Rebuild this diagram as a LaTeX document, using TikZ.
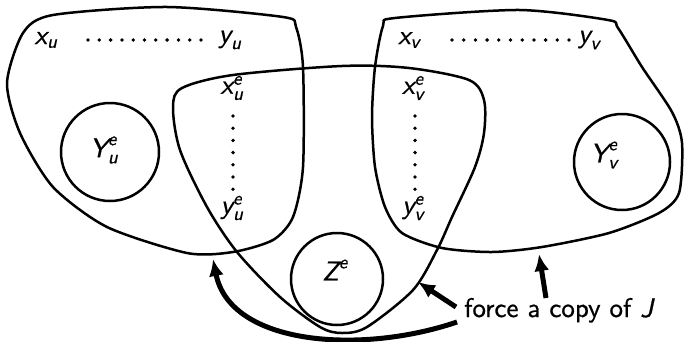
\documentclass[tikz,border=0pt]{standalone}
\usepackage{amsmath}
\usepackage{fontspec}
\setsansfont{lmsans10-regular.otf}[SlantedFont=lmsans10-oblique.otf, ItalicFont=lmsans10-oblique.otf, FakeBold=0.7]
\usetikzlibrary{arrows.meta}
\DeclareMathSizes{27}{27}{19}{14}
\newcommand{\mv}[1]{\textsl{#1}}
\tikzset{
  blob/.style={line width=2.5pt, line join=round},
  lbl/.style={font=\sffamily\fontsize{27}{32}\selectfont, inner sep=0pt},
  dotm/.style={fill=black, draw=none},
  bigarrow/.style={line width=5pt, -{Latex[length=17pt,width=15pt]}},
}
\begin{document}
\begin{tikzpicture}[x=1pt,y=-1pt]
\useasboundingbox (0,0) rectangle (684,342);
% left set
\draw[blob] plot[smooth cycle, tension=0.45] coordinates {
 (23,33) (53,15) (167,7) (283,17) (296,27) (303,67) (303,167) (293,217) (273,240)
 (233,252) (187,253) (107,227) (53,187) (20,133) (7,83)};
% right set
\draw[blob] plot[smooth cycle, tension=0.45] coordinates {
 (395,18) (519,10) (608,20) (618,28) (642,67) (672,112) (682,143) (679,193) (659,213)
 (609,233) (542,247) (492,252) (442,248) (402,233) (385,207) (375,167)
 (372,117) (375,67) (383,26)};
% middle U-shaped set
\draw[blob] plot[smooth cycle, tension=0.5] coordinates {
 (182,88) (233,75) (342,66) (409,68) (469,80) (484,100) (484,133) (475,167)
 (452,217) (437,250) (413,290) (367,327) (342,333) (320,327) (280,297)
 (237,252) (207,207) (180,150) (173,107)};
% circles
\node[draw, blob, circle, minimum size=98pt] (Yu) at (110,152) {};
\node[draw, blob, circle, minimum size=96pt] (Yv) at (622,162) {};
\node[draw, blob, circle, minimum size=92pt] (Z) at (337,279) {};
\node[lbl] (Yul) at (104,150) {$\mv{Y}_{\mv{u}}^{\mv{e}}$};
\node[lbl] (Yvl) at (604,155) {$\mv{Y}_{\mv{v}}^{\mv{e}}$};
\node[lbl] (Zl) at (335,270) {$\mv{Z}^{\mv{e}}$};
% labels
\node[lbl] (xu) at (46,40) {$\mv{x}_{\mv{u}}$};
\node[lbl] (yu) at (230,40) {$\mv{y}_{\mv{u}}$};
\node[lbl] (xv) at (409,40) {$\mv{x}_{\mv{v}}$};
\node[lbl] (yv) at (589,40) {$\mv{y}_{\mv{v}}$};
\node[lbl] (xue) at (232,88) {$\mv{x}_{\mv{u}}^{\mv{e}}$};
\node[lbl] (yue) at (232,208) {$\mv{y}_{\mv{u}}^{\mv{e}}$};
\node[lbl] (xve) at (413,88) {$\mv{x}_{\mv{v}}^{\mv{e}}$};
\node[lbl] (yve) at (413,208) {$\mv{y}_{\mv{v}}^{\mv{e}}$};
% dots
\foreach \i in {0,...,10} {
  \fill[dotm] ({88+\i*11.3},40) circle (1.9pt);
  \fill[dotm] ({452+\i*11.7},40) circle (1.9pt);
}
\foreach \i in {0,...,6} {
  \fill[dotm] (233,{116+\i*12.2}) circle (1.9pt);
  \fill[dotm] (415,{116+\i*12.2}) circle (1.9pt);
}
% text
\node[lbl, anchor=base west] (force) at (464,317) {force a copy of $\mv{J}$};
% arrows
\coordinate (a1s) at (457,322);
\coordinate (a1e) at (213,259);
\coordinate (a2s) at (456,307);
\coordinate (a2e) at (418,282);
\coordinate (a3s) at (546,298);
\coordinate (a3e) at (539,254);
\draw[bigarrow] (a1s) .. controls (360,355) and (230,345) .. (a1e);
\draw[bigarrow] (a2s) -- (a2e);
\draw[bigarrow] (a3s) -- (a3e);
\end{tikzpicture}
\end{document}
